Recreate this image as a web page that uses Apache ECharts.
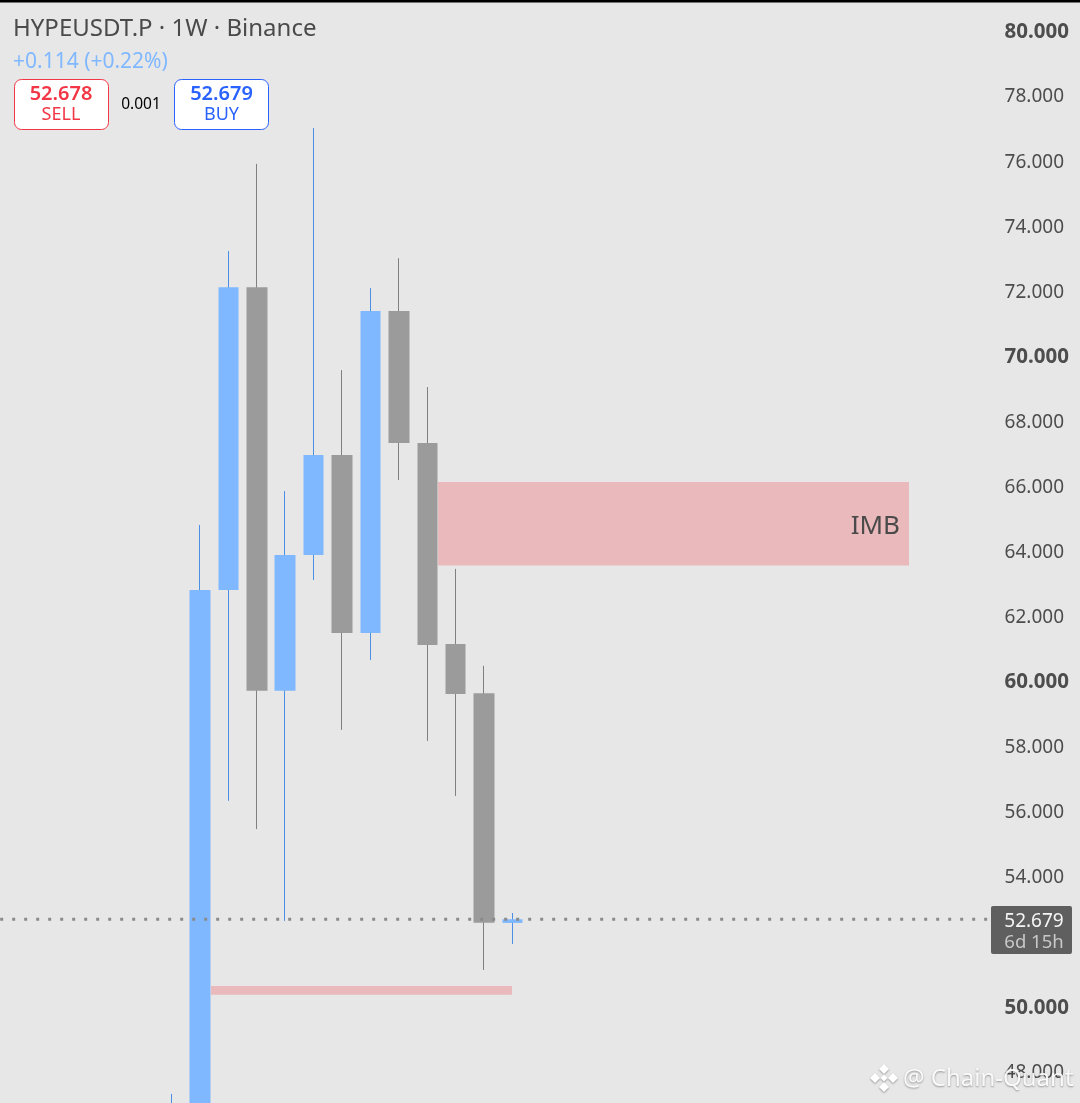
<!DOCTYPE html>
<html><head><meta charset="utf-8">
<style>html,body{margin:0;padding:0;background:#e7e7e7;overflow:hidden}#c{width:1080px;height:1103px}</style>
<script src="https://cdn.jsdelivr.net/npm/echarts@6/dist/echarts.min.js"></script>
</head><body><div id="c"></div>
<script>
const FONT = '"Noto Sans","Open Sans",sans-serif';
// weekly candles: blank slots left and right keep the candle spacing of the picture
const leadingSlots = 6, trailingSlots = 20;
const weeks = ['W1','W2','W3','W4','W5','W6','W7','W8','W9','W10','W11','W12','W13'];
const opens  = [44.0,46.0,62.80,72.11,59.70,63.88,66.95,61.48,71.38,67.32,61.14,59.63,52.565];
const closes = [46.0,62.80,72.11,59.70,63.88,66.95,61.48,71.38,67.32,61.11,59.60,52.57,52.679];
const lows   = [43.0,44.5,56.32,55.45,52.63,63.11,58.50,60.65,66.18,58.16,56.47,51.12,51.92];
const highs  = [47.31,64.80,73.22,75.90,65.84,77.00,69.56,72.08,73.00,69.04,63.45,60.47,52.87];
// imbalance zones, x in candle slots
const zoneNames = ['IMB',''];
const zoneX0 = [15.88,7.89];
const zoneX1 = [32.45,18.48];
const zoneLow = [63.55,50.36];
const zoneHigh = [66.12,50.63];
const lastPrice = 52.679;
const lineX = [0.05,35.2];
const tickBold = [50,60,70,80];

const BAND = 28.42, LEFT = 171.5 - BAND * 6.5;
const PX = 32.53, Y80 = 30.5;
const gridTop = Y80 - 2 * PX, gridH = 36 * PX;

const cats = [...Array(leadingSlots).fill(''), ...weeks, ...Array(trailingSlots).fill('')].map((w,i)=> w || ('_'+i));
const total = cats.length;
const gridW = total * BAND;
const isUp = i => closes[i] >= opens[i];

function wickData(up){
  const d = Array(leadingSlots).fill('-');
  weeks.forEach((_,i)=> d.push(isUp(i)===up ? [opens[i],closes[i],lows[i],highs[i]] : '-'));
  return d;
}
function bodyData(up){
  const d = Array(leadingSlots).fill('-');
  weeks.forEach((_,i)=>{
    const lo=Math.min(opens[i],closes[i]),hi=Math.max(opens[i],closes[i]);
    d.push(isUp(i)===up ? [opens[i],closes[i],lo,hi] : '-');
  });
  return d;
}
const wick = (up,color)=>({type:'candlestick',data:wickData(up),barWidth:1,z:3,silent:true,
  itemStyle:{color:color,color0:color,borderColor:color,borderColor0:color,borderWidth:1}});
const body = (up,color)=>({type:'candlestick',data:bodyData(up),barWidth:21,z:4,silent:true,
  itemStyle:{color:color,color0:color,borderColor:color,borderColor0:color,borderWidth:0}});

const chart = echarts.init(document.getElementById('c'),null,{renderer:'canvas'});
const t = (text,x,y,size,fill,extra)=>({type:'text',z:50,style:Object.assign({text,x,y,font:`${size}px ${FONT}`,fill,verticalAlign:'middle'},extra||{})});
const tb = (text,x,y,size,fill,extra)=>({type:'text',z:50,style:Object.assign({text,x,y,font:`600 ${size}px ${FONT}`,fill,verticalAlign:'middle'},extra||{})});
const diamond=(cx,cy,r)=>({type:'polygon',z:60,shape:{points:[[cx,cy-r],[cx+r,cy],[cx,cy+r],[cx-r,cy]]},style:{fill:'#ffffff',shadowColor:'rgba(0,0,0,.35)',shadowBlur:2,shadowOffsetY:1}});

chart.setOption({
  animation:false,
  backgroundColor:'#e7e7e7',
  grid:{left:LEFT,top:gridTop,width:gridW,height:gridH,containLabel:false,outerBoundsMode:'none'},
  tooltip:{show:false},
  xAxis:[
    {type:'category',data:cats,show:false,boundaryGap:true},
    {type:'value',min:0,max:total,show:false}
  ],
  yAxis:{type:'value',min:46,max:82,interval:2,position:'right',offset:-(LEFT+gridW-1080),
    axisLine:{show:false},axisTick:{show:false},splitLine:{show:false},
    axisLabel:{inside:true,margin:11,hideOverlap:false,
      formatter:v=>tickBold.includes(v)?`{b|${v.toFixed(3)}}`:`{n|${v.toFixed(3)}}`,
      rich:{
        n:{fontFamily:FONT,fontSize:19,color:'#4d4d4d',padding:[3,5,0,0]},
        b:{fontFamily:FONT,fontSize:20.5,fontWeight:700,color:'#4d4d4d',padding:[3,0,0,0]}
      }}},
  series:[
    {type:'custom',xAxisIndex:1,yAxisIndex:0,z:1,silent:true,clip:true,
      data:zoneNames.map((n,i)=>[zoneX0[i],zoneX1[i],zoneLow[i],zoneHigh[i],n]),
      encode:{x:[0,1],y:[2,3]},
      renderItem(params,api){
        const a=api.coord([api.value(0),api.value(3)]),b=api.coord([api.value(1),api.value(2)]);
        const label=zoneNames[params.dataIndex];
        return {type:'group',children:[
          {type:'rect',shape:{x:a[0],y:a[1],width:b[0]-a[0],height:b[1]-a[1]},style:{fill:'#e9b9bc'}},
          {type:'text',style:{text:label,x:b[0]-9,y:(a[1]+b[1])/2+3,align:'right',verticalAlign:'middle',font:`26px ${FONT}`,fill:'#4a4a4a'}}
        ]};
      }},
    wick(true,'#4a8fe3'),
    wick(false,'#808080'),
    body(true,'#80b8ff'),
    body(false,'#9b9b9b'),
    {type:'line',xAxisIndex:1,yAxisIndex:0,z:6,silent:true,symbol:'none',
      data:lineX.map(x=>[x,lastPrice]),
      lineStyle:{color:'#8a8a8a',width:3,type:[3,9],cap:'butt'}}
  ],
  graphic:[
    {type:'rect',z:40,shape:{x:0,y:0,width:1080,height:2.5},style:{fill:'#000'}},
    t('HYPEUSDT.P · 1W · Binance',13,29,24,'#4a4a4a'),
    t('+0.114 (+0.22%)',13,62,21,'#80b8ff'),
    {type:'rect',z:45,shape:{x:14.5,y:79.5,width:94,height:50,r:7},style:{fill:'#fff',stroke:'#f23645',lineWidth:1}},
    {type:'rect',z:45,shape:{x:174.5,y:79.5,width:94,height:50,r:7},style:{fill:'#fff',stroke:'#2962ff',lineWidth:1}},
    tb('52.678',61,94.5,20,'#f23645',{align:'center'}),
    t('SELL',61,115,18,'#f23645',{align:'center'}),
    t('0.001',141,105,15.5,'#000',{align:'center'}),
    tb('52.679',221.5,94.5,20,'#2962ff',{align:'center'}),
    t('BUY',221.5,115,18,'#2962ff',{align:'center'}),
    {type:'rect',z:45,shape:{x:991,y:906,width:81,height:48,r:2},style:{fill:'#5f5f5f'}},
    t('52.679',1034,922,19,'#f5f5f5',{align:'center'}),
    t('6d 15h',1034,943,18.5,'#c8c8c8',{align:'center'}),
    diamond(884,1069,5),diamond(884,1087,5),diamond(875,1078,5),diamond(893,1078,5),diamond(884,1078,3.5),
    {type:'text',z:60,style:{text:'@ Chain-Quant',x:903,y:1079,verticalAlign:'middle',font:`24px ${FONT}`,fill:'rgba(255,255,255,.92)',textShadowColor:'rgba(0,0,0,.4)',textShadowBlur:2,textShadowOffsetY:1}}
  ]
});
</script></body></html>
